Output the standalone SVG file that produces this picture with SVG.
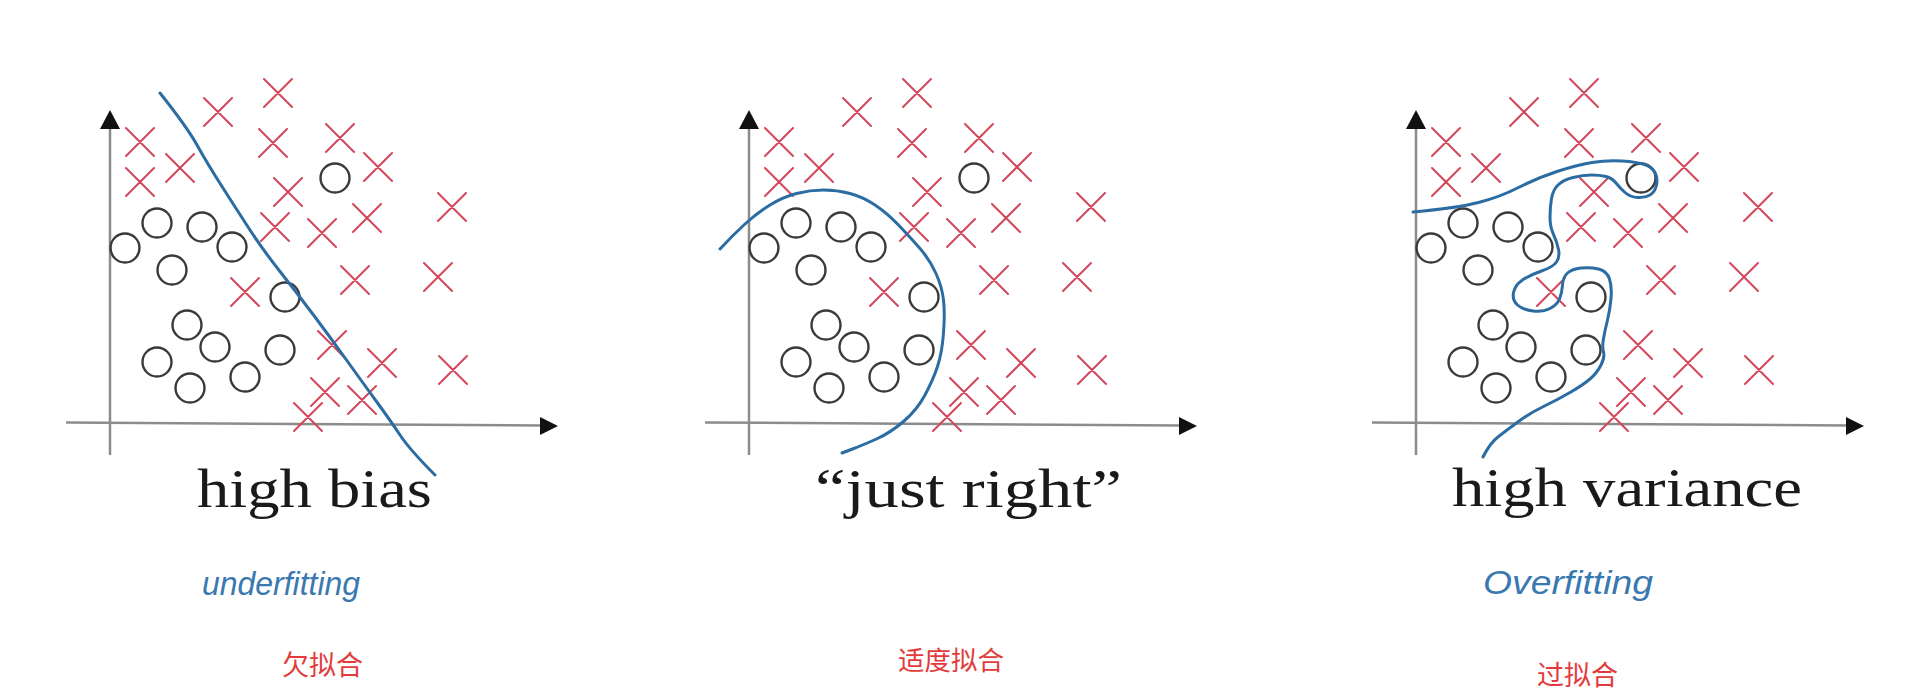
<svg xmlns="http://www.w3.org/2000/svg" width="1920" height="691" viewBox="0 0 1920 691">
<style>
.axis{stroke:#8c8c8c;stroke-width:2.5;fill:none}
.arrow{fill:#111}
.cross{stroke:#d4475b;stroke-width:2;fill:none;stroke-linecap:round}
.circ{stroke:#3a3a3a;stroke-width:2.4;fill:none}
.curve{stroke:#2b6ca3;stroke-width:3;fill:none;stroke-linecap:round;stroke-linejoin:round}
.title{font-family:"Liberation Serif","Times New Roman",serif;font-size:55px;fill:#1a1a1a}
.hand{font-family:"Liberation Sans",Arial,sans-serif;font-style:italic;font-size:34px;fill:#3a78b0}
.cn{font-family:"Noto Sans CJK SC","Noto Sans",sans-serif;fill:#e33b3b}
</style>
<defs>
<g id="axes">
<line class="axis" x1="0" y1="127" x2="0" y2="455"/>
<path class="arrow" d="M0,110 L-10,129 L10,129 Z"/>
<line class="axis" x1="-44" y1="422.5" x2="432" y2="425.5"/>
<path class="arrow" d="M448,426 L430,417 L430,435 Z"/>
</g>
<g id="pts">
<path class="cross" d="M154,79L182,107M182,79L154,107M94,98L122,126M122,98L94,126M16,128L44,156M44,128L16,156M149,129L177,157M177,129L149,157M216,124L244,152M244,124L216,152M56,154L84,182M84,154L56,182M16,168L44,196M44,168L16,196M254,153L282,181M282,153L254,181M164,178L192,206M192,178L164,206M328,193L356,221M356,193L328,221M243,204L271,232M271,204L243,232M151,213L179,241M179,213L151,241M198,219L226,247M226,219L198,247M231,266L259,294M259,266L231,294M314,263L342,291M342,263L314,291M121,278L149,306M149,278L121,306M208,331L236,359M236,331L208,359M258,349L286,377M286,349L258,377M329,356L357,384M357,356L329,384M201,378L229,406M229,378L201,406M238,386L266,414M266,386L238,414M184,403L212,431M212,403L184,431"/>
<circle class="circ" cx="225" cy="178" r="14.5"/>
<circle class="circ" cx="47" cy="223" r="14.5"/>
<circle class="circ" cx="92" cy="227" r="14.5"/>
<circle class="circ" cx="15" cy="248" r="14.5"/>
<circle class="circ" cx="122" cy="247" r="14.5"/>
<circle class="circ" cx="62" cy="270" r="14.5"/>
<circle class="circ" cx="175" cy="297" r="14.5"/>
<circle class="circ" cx="77" cy="325" r="14.5"/>
<circle class="circ" cx="105" cy="347" r="14.5"/>
<circle class="circ" cx="170" cy="350" r="14.5"/>
<circle class="circ" cx="47" cy="362" r="14.5"/>
<circle class="circ" cx="135" cy="377" r="14.5"/>
<circle class="circ" cx="80" cy="388" r="14.5"/>
</g>
</defs>
<rect width="1920" height="691" fill="#ffffff"/>

<g id="panel-high-bias">
<g transform="translate(110,0)">
<use href="#axes"/>
<use href="#pts"/>
<path class="curve" d="M50,93 Q77,127 87,145 Q97,163 112,186.5 Q127,210 140,230 Q153,250 170,271.5 Q187,293 203.5,315 Q220,337 236.5,360 Q253,383 266.5,401.5 Q280,420 290,435 Q300,450 325,475"/>
</g>
<text class="title" x="197" y="507" textLength="235" lengthAdjust="spacingAndGlyphs">high bias</text>
<text class="hand" x="202" y="595" textLength="158" lengthAdjust="spacingAndGlyphs">underfitting</text>
<text class="cn" x="282" y="675" font-size="27">欠拟合</text>
</g>

<g id="panel-just-right">
<g transform="translate(749,0)">
<use href="#axes"/>
<use href="#pts"/>
<path class="curve" d="M-29,249 Q-16,235 -4,224 Q8,213 21,205 Q34,197 47.5,193.5 Q61,190 74.5,190 Q88,190 101,193.5 Q114,197 126,205 Q138,213 149.5,225 Q161,237 171,248.5 Q181,260 187,273.5 Q193,287 194.5,300 Q196,313 194.5,333 Q193,353 188.5,366.5 Q184,380 176,395 Q168,410 154.5,421.5 Q141,433 127.5,439 Q114,445 103.5,449 L93,453"/>
</g>
<text class="title" x="815" y="507" textLength="307" lengthAdjust="spacingAndGlyphs">“just right”</text>
<text class="cn" x="898" y="670" font-size="26.5">适度拟合</text>
</g>

<g id="panel-high-variance">
<g transform="translate(1416,0)">
<use href="#axes"/>
<use href="#pts"/>
<path class="curve" d="M-3,212 Q41,208 62.5,202.5 Q84,197 102.5,187.5 Q121,178 141,171.5 Q161,165 176,162.5 Q191,160 206,161 Q221,162 228.5,164.5 Q236,167 239,172.5 Q242,178 240.5,185 Q239,192 234,195 Q229,198 221.5,197.5 Q214,197 209,192.5 Q204,188 200,183 Q196,178 190,176.5 Q184,175 175.5,175 Q167,175 157,177.5 Q147,180 142,185 Q137,190 135.5,198.5 Q134,207 134,217 Q134,227 137.5,234.5 Q141,242 142.5,249.5 Q144,257 140.5,262 Q137,267 125.5,271 Q114,275 106.5,280 Q99,285 97.5,292.5 Q96,300 101.5,305 Q107,310 117,311 Q127,312 134,308.5 Q141,305 143.5,299 Q146,293 146.5,285 Q147,277 151.5,273 Q156,269 165,268 Q174,267 182.5,269 Q191,271 193.5,279 Q196,287 195,298.5 Q194,310 191.5,320 Q189,330 187.5,338.5 Q186,347 187.5,352 Q189,357 185,365 Q181,373 174,379 Q167,385 154,392.5 Q141,400 127.5,406.5 Q114,413 102.5,421.5 Q91,430 82.5,436.5 Q74,443 67,457"/>
</g>
<text class="title" x="1452" y="506" textLength="350" lengthAdjust="spacingAndGlyphs">high variance</text>
<text class="hand" x="1483" y="594" textLength="170" lengthAdjust="spacingAndGlyphs">Overfitting</text>
<text class="cn" x="1537" y="685" font-size="27">过拟合</text>
</g>
</svg>
